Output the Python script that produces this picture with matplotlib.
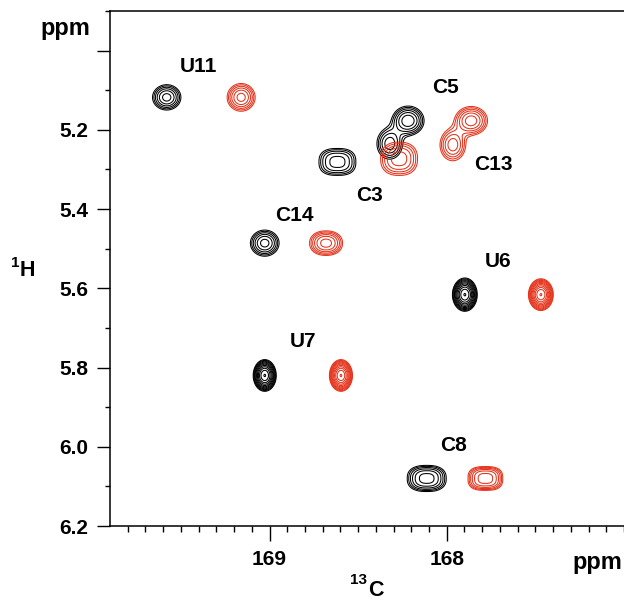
import numpy as np
import matplotlib.pyplot as plt

plt.rcParams['font.family'] = ['Liberation Sans', 'DejaVu Sans']
plt.rcParams['font.weight'] = 'bold'

# Picos del espectro negro: posición (13C, 1H), semiancho exterior (ppm), altura, forma
negro_c = [169.580, 168.617, 168.218, 168.322, 169.027, 169.027, 167.898, 168.113]
negro_h = [5.118, 5.281, 5.177, 5.235, 5.486, 5.820, 5.616, 6.080]
negro_sx = [0.080, 0.104, 0.090, 0.072, 0.081, 0.065, 0.070, 0.110]
negro_sy = [0.032, 0.034, 0.037, 0.039, 0.033, 0.040, 0.042, 0.033]
negro_alt = [4.2, 3.2, 4.6, 3.4, 4.2, 14.0, 14.0, 4.2]
negro_forma = [2.0, 2.6, 2.0, 2.0, 2.0, 2.0, 2.0, 2.5]

# Picos del espectro rojo
rojo_c = [169.160, 168.269, 167.862, 167.966, 168.681, 168.597, 167.469, 167.782]
rojo_h = [5.118, 5.273, 5.177, 5.238, 5.486, 5.820, 5.616, 6.080]
rojo_sx = [0.079, 0.104, 0.092, 0.072, 0.093, 0.065, 0.070, 0.098]
rojo_sy = [0.035, 0.042, 0.036, 0.040, 0.031, 0.040, 0.040, 0.030]
rojo_alt = [4.2, 3.3, 4.4, 3.4, 4.2, 14.0, 14.0, 4.2]
rojo_forma = [2.0, 2.4, 2.0, 2.0, 2.2, 2.0, 2.0, 2.8]

# Etiquetas de asignación
etiquetas = ['U11', 'C5', 'C13', 'C3', 'C14', 'U6', 'U7', 'C8']
etiq_c = [169.40, 168.008, 167.739, 168.435, 168.857, 167.711, 168.812, 167.963]
etiq_h = [5.039, 5.094, 5.288, 5.366, 5.417, 5.533, 5.735, 5.997]

# Niveles de contorno (geométricos, como en un espectro)
nivel_base = 1.0
factor_nivel = 1.3
n_niveles = 14

ROJO = '#e5331b'


def espectro(X, Y, cs, hs, sxs, sys_, alts, formas):
    Z = np.zeros_like(X)
    for c, h, sx, sy, a, p in zip(cs, hs, sxs, sys_, alts, formas):
        k = (2 * np.log(a / nivel_base)) ** (1.0 / p)
        dx = np.abs(X - c) / (sx / k)
        dy = np.abs(Y - h) / (sy / k)
        Z += a * np.exp(-0.5 * (dx ** p + dy ** p))
    return Z


def main():
    fig = plt.figure(figsize=(6.24, 6.0), dpi=100)
    ax = fig.add_axes([110 / 624, 1 - 526 / 600, 1 - 110 / 624, 515 / 600])

    xs = np.linspace(167.0, 169.9, 900)
    ys = np.linspace(4.9, 6.2, 900)
    X, Y = np.meshgrid(xs, ys)
    niveles = nivel_base * factor_nivel ** np.arange(n_niveles)

    Zn = espectro(X, Y, negro_c, negro_h, negro_sx, negro_sy, negro_alt, negro_forma)
    Zr = espectro(X, Y, rojo_c, rojo_h, rojo_sx, rojo_sy, rojo_alt, rojo_forma)
    ax.contour(X, Y, Zn, levels=niveles, colors='black', linewidths=0.75)
    ax.contour(X, Y, Zr, levels=niveles, colors=ROJO, linewidths=0.75)

    for t, c, h in zip(etiquetas, etiq_c, etiq_h):
        ax.text(c, h, t, fontsize=15, fontweight='bold', ha='center', va='center')

    ax.set_xlim(169.9, 167.01)
    ax.set_ylim(6.2, 4.9)

    ax.set_xticks([169, 168])
    ax.set_xticklabels(['169', '168'])
    ax.set_xticks(np.arange(169.8, 167.0, -0.1), minor=True)
    ax.set_yticks([5.0, 5.2, 5.4, 5.6, 5.8, 6.0, 6.2])
    ax.set_yticklabels(['', '5.2', '5.4', '5.6', '5.8', '6.0', '6.2'])
    ax.set_yticks(np.arange(4.9, 6.25, 0.1), minor=True)

    ax.tick_params(axis='x', which='major', length=10.5, width=1.0, pad=7, labelsize=15)
    ax.tick_params(axis='x', which='minor', length=4.5, width=1.0)
    ax.tick_params(axis='y', which='major', length=9.5, width=1.0, pad=6, labelsize=15)
    ax.tick_params(axis='y', which='minor', length=3.5, width=1.0)
    for lab in ax.get_xticklabels() + ax.get_yticklabels():
        lab.set_fontweight('bold')

    ax.spines['right'].set_visible(False)
    for s in ['left', 'top', 'bottom']:
        ax.spines[s].set_linewidth(1.1)

    # títulos de ejes con superíndices
    fig.text(65 / 624, 1 - 29 / 600, 'ppm', fontsize=17, fontweight='bold', ha='center', va='center')
    fig.text(597 / 624, 1 - 563 / 600, 'ppm', fontsize=17, fontweight='bold', ha='center', va='center')
    fig.text(20 / 624, 1 - 263 / 600, '1', fontsize=11, fontweight='bold', ha='right', va='center')
    fig.text(20 / 624, 1 - 271 / 600, 'H', fontsize=15.5, fontweight='bold', ha='left', va='center')
    fig.text(367 / 624, 1 - 580 / 600, '13', fontsize=11, fontweight='bold', ha='right', va='center')
    fig.text(368 / 624, 1 - 590 / 600, 'C', fontsize=15.5, fontweight='bold', ha='left', va='center')

    fig.savefig('out.png', dpi=100)


if __name__ == "__main__":
    main()
